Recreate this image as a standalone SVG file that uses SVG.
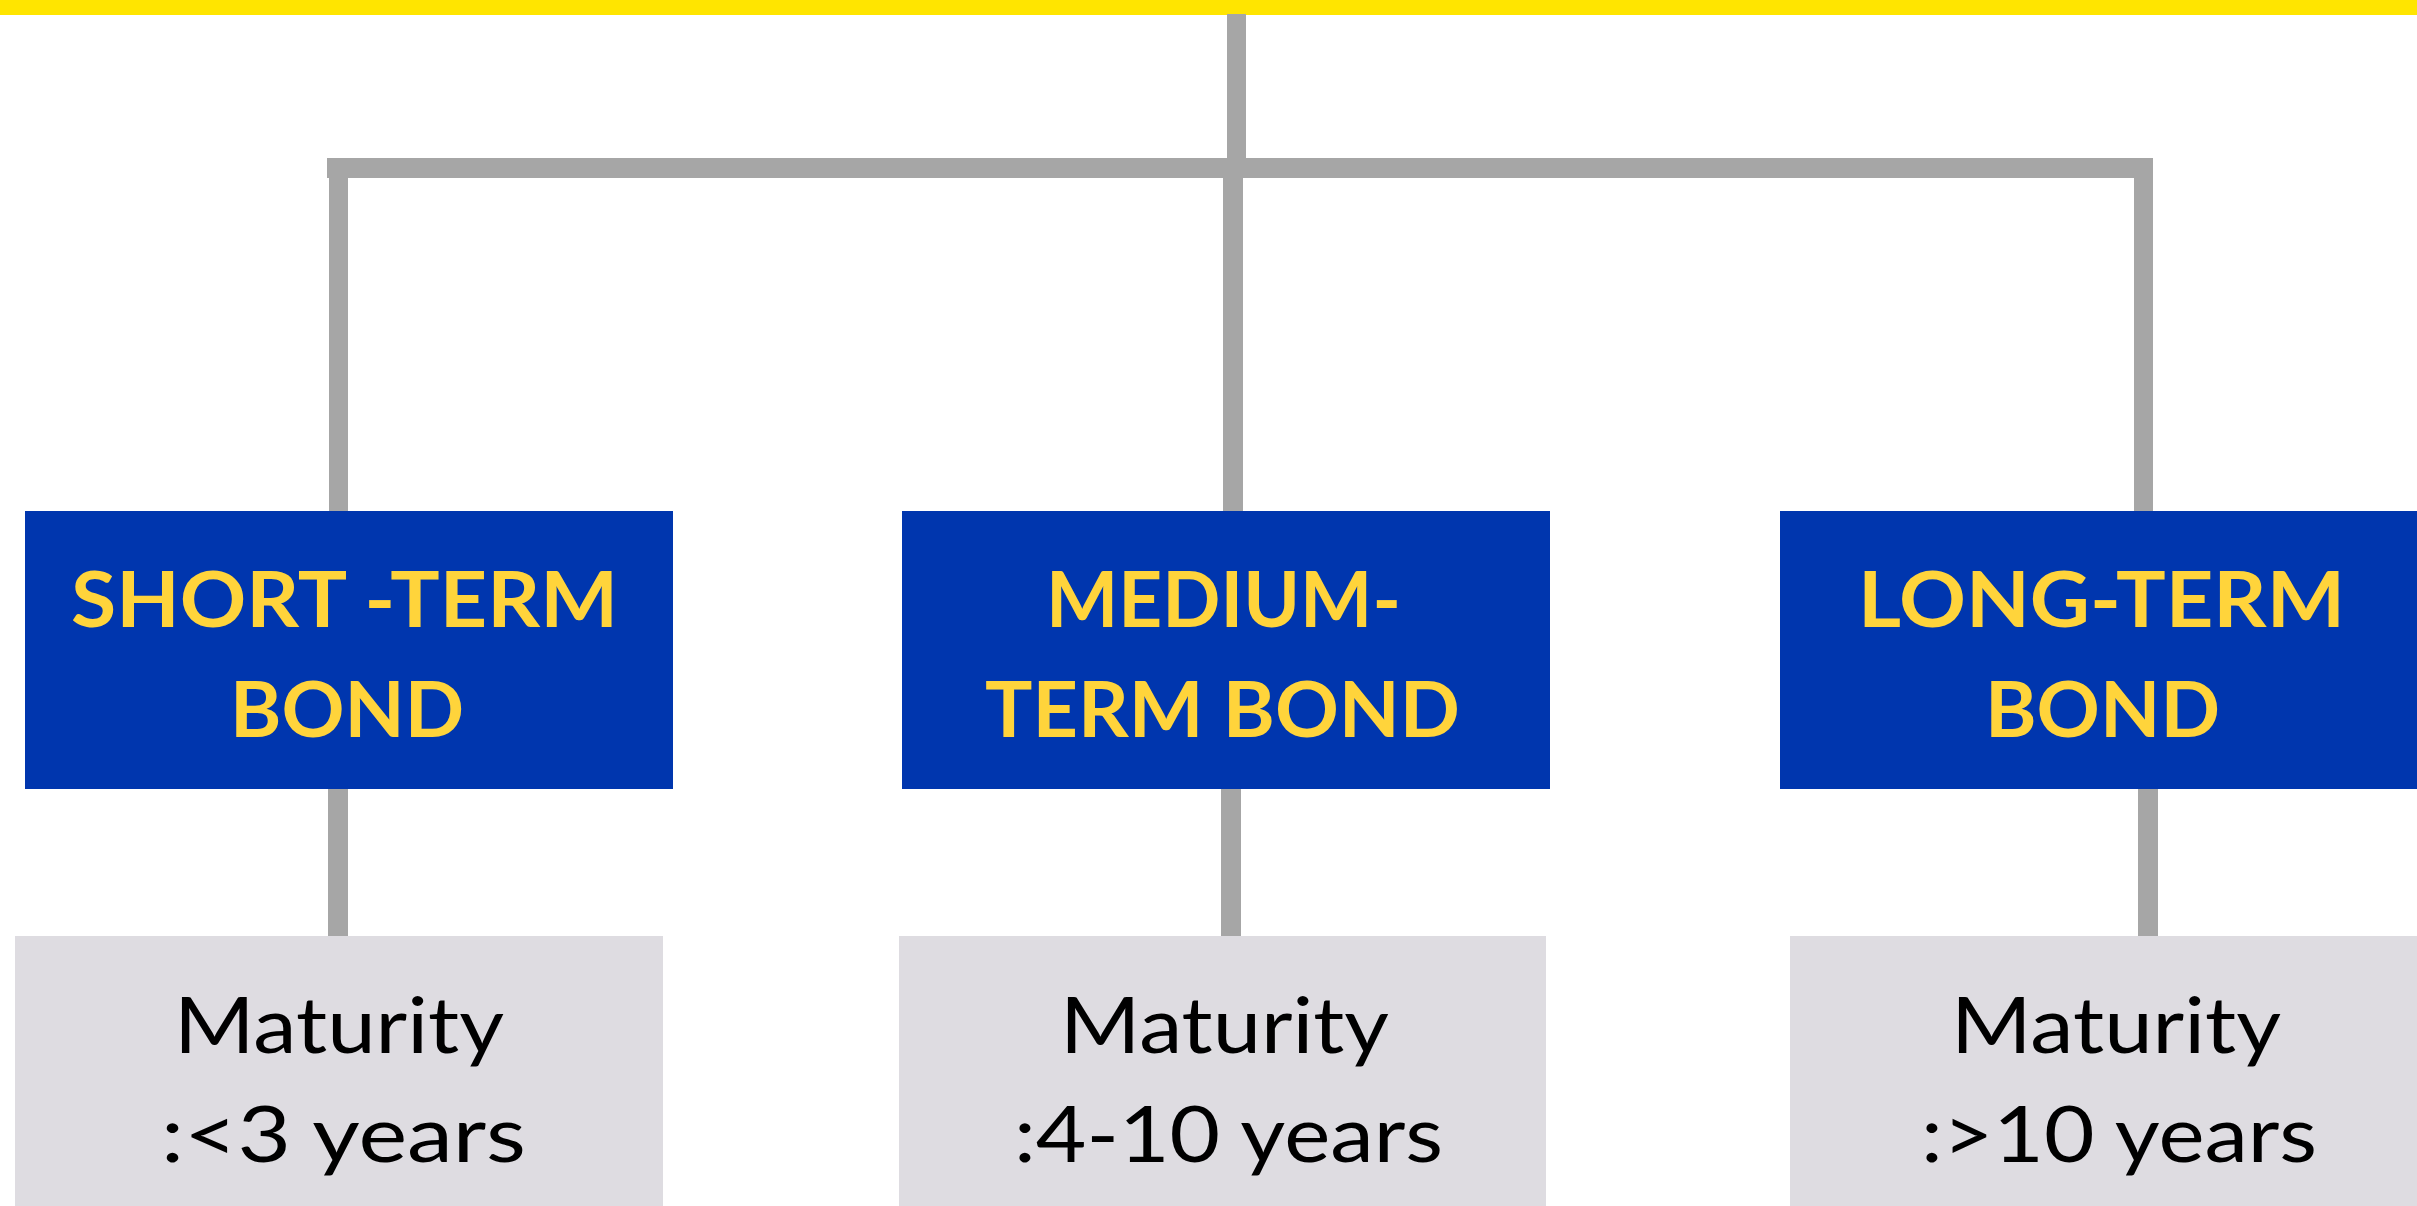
<svg xmlns="http://www.w3.org/2000/svg" width="2417" height="1206" viewBox="0 0 2417 1206">
<style>
.line{fill:#a6a6a6}
.blue{fill:#0036ae}
.grey{fill:#dedce1}
.title{font-family:"Lato","Liberation Sans",sans-serif;font-weight:700;font-size:76px;fill:#ffd43b}
.body{font-family:"Lato","Liberation Sans",sans-serif;font-weight:400;font-size:78px;fill:#000000}
</style>
<rect x="0" y="0" width="2417" height="15" fill="#ffe500"/>
<g id="connectors">
<rect class="line" x="1227" y="14" width="19" height="146"/>
<rect class="line" x="327" y="158" width="1826" height="20"/>
<rect class="line" x="329" y="178" width="19" height="334"/>
<rect class="line" x="1223" y="178" width="20" height="334"/>
<rect class="line" x="2134" y="178" width="19" height="334"/>
<rect class="line" x="328" y="788" width="20" height="149"/>
<rect class="line" x="1221" y="788" width="20" height="149"/>
<rect class="line" x="2138" y="788" width="20" height="149"/>
</g>
<g id="short-term">
<rect class="blue" x="25" y="511" width="648" height="278"/>
<text class="title" x="71" y="627" textLength="547" lengthAdjust="spacingAndGlyphs">SHORT -TERM</text>
<text class="title" x="230" y="737" textLength="234" lengthAdjust="spacingAndGlyphs">BOND</text>
</g>
<g id="medium-term">
<rect class="blue" x="902" y="511" width="648" height="278"/>
<text class="title" x="1046" y="627" textLength="355" lengthAdjust="spacingAndGlyphs">MEDIUM-</text>
<text class="title" x="985" y="737" textLength="475" lengthAdjust="spacingAndGlyphs">TERM BOND</text>
</g>
<g id="long-term">
<rect class="blue" x="1780" y="511" width="648" height="278"/>
<text class="title" x="1858" y="627" textLength="487" lengthAdjust="spacingAndGlyphs">LONG-TERM</text>
<text class="title" x="1985" y="737" textLength="235" lengthAdjust="spacingAndGlyphs">BOND</text>
</g>
<g id="short-maturity">
<rect class="grey" x="15" y="936" width="648" height="270"/>
<text class="body" x="174" y="1053" textLength="330" lengthAdjust="spacingAndGlyphs">Maturity</text>
<text class="body" x="161" y="1162" textLength="365" lengthAdjust="spacingAndGlyphs">:&lt;3 years</text>
</g>
<g id="medium-maturity">
<rect class="grey" x="899" y="936" width="647" height="270"/>
<text class="body" x="1060" y="1053" textLength="329" lengthAdjust="spacingAndGlyphs">Maturity</text>
<text class="body" x="1014" y="1162" textLength="429" lengthAdjust="spacingAndGlyphs">:4-10 years</text>
</g>
<g id="long-maturity">
<rect class="grey" x="1790" y="936" width="648" height="270"/>
<text class="body" x="1951" y="1053" textLength="330" lengthAdjust="spacingAndGlyphs">Maturity</text>
<text class="body" x="1921" y="1162" textLength="396" lengthAdjust="spacingAndGlyphs">:&gt;10 years</text>
</g>
</svg>
